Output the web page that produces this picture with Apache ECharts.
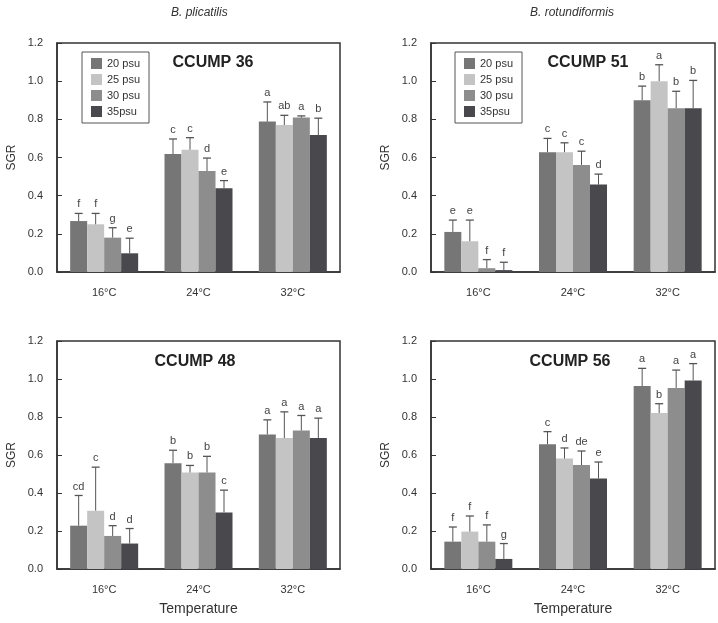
<!DOCTYPE html>
<html>
<head>
<meta charset="utf-8">
<script src="https://cdn.jsdelivr.net/npm/echarts@6/dist/echarts.min.js"></script>
<style>
  html, body { margin: 0; padding: 0; background: #fff; }
  #chart { width: 718px; height: 623px; }
</style>
</head>
<body>
<div id="chart"></div>
<script>
// categories
const temps = ['16°C', '24°C', '32°C'];
const salinities = ['20 psu', '25 psu', '30 psu', '35psu'];
const strains = ['CCUMP 36', 'CCUMP 51', 'CCUMP 48', 'CCUMP 56'];

// mean SGR, one row per salinity, one column per temperature
const c36Mean = [[0.267, 0.618, 0.788], [0.25, 0.641, 0.77], [0.18, 0.529, 0.809], [0.098, 0.439, 0.718]];
const c36Err = [[0.04, 0.079, 0.103], [0.057, 0.063, 0.051], [0.052, 0.068, 0.009], [0.079, 0.04, 0.088]];
const c36Sig = [['f', 'c', 'a'], ['f', 'c', 'ab'], ['g', 'd', 'a'], ['e', 'e', 'b']];

const c51Mean = [[0.21, 0.628, 0.90], [0.161, 0.628, 1.0], [0.02, 0.561, 0.858], [0.01, 0.458, 0.858]];
const c51Err = [[0.062, 0.072, 0.074], [0.111, 0.049, 0.086], [0.045, 0.072, 0.089], [0.041, 0.055, 0.146]];
const c51Sig = [['e', 'c', 'b'], ['e', 'c', 'a'], ['f', 'c', 'b'], ['f', 'd', 'b']];

const c48Mean = [[0.228, 0.557, 0.708], [0.307, 0.508, 0.689], [0.174, 0.508, 0.729], [0.134, 0.298, 0.689]];
const c48Err = [[0.159, 0.068, 0.077], [0.229, 0.037, 0.138], [0.054, 0.085, 0.079], [0.079, 0.117, 0.105]];
const c48Sig = [['cd', 'b', 'a'], ['c', 'b', 'a'], ['d', 'b', 'a'], ['d', 'c', 'a']];

const c56Mean = [[0.144, 0.656, 0.963], [0.197, 0.581, 0.821], [0.144, 0.547, 0.953], [0.053, 0.476, 0.992]];
const c56Err = [[0.077, 0.067, 0.093], [0.082, 0.056, 0.049], [0.088, 0.074, 0.094], [0.081, 0.087, 0.089]];
const c56Sig = [['f', 'c', 'a'], ['f', 'd', 'b'], ['f', 'de', 'a'], ['g', 'e', 'a']];

const panels = [
  { mean: c36Mean, err: c36Err, sig: c36Sig },
  { mean: c51Mean, err: c51Err, sig: c51Sig },
  { mean: c48Mean, err: c48Err, sig: c48Sig },
  { mean: c56Mean, err: c56Err, sig: c56Sig }
];

const colors = ['#767676', '#c4c4c4', '#8d8d8d', '#48484d'];
const FONT = 'Liberation Sans, Arial, sans-serif';
const BAR_W = 17;

const grids = [
  { left: 57, top: 43, width: 283, height: 229 },
  { left: 431, top: 43, width: 284, height: 229 },
  { left: 57, top: 341, width: 283, height: 228 },
  { left: 431, top: 341, width: 284, height: 228 }
];

const chart = echarts.init(document.getElementById('chart'));

const xAxes = grids.map((g, i) => ({
  type: 'category',
  gridIndex: i,
  data: temps,
  name: i >= 2 ? 'Temperature' : '',
  nameLocation: 'middle',
  nameGap: 33,
  nameTextStyle: { fontFamily: FONT, fontSize: 14, color: '#333' },
  axisLine: { lineStyle: { color: '#333', width: 1.5 } },
  axisTick: { inside: true, length: 5, lineStyle: { color: '#333' } },
  axisLabel: { fontFamily: FONT, fontSize: 11, color: '#333', margin: 15 }
}));

const yAxes = grids.map((g, i) => ({
  type: 'value',
  gridIndex: i,
  min: 0,
  max: 1.2,
  interval: 0.2,
  name: 'SGR',
  nameLocation: 'middle',
  nameGap: 39,
  nameTextStyle: { fontFamily: FONT, fontSize: 12, color: '#333' },
  axisLine: { show: true, lineStyle: { color: '#333', width: 1.5 } },
  axisTick: { show: true, inside: true, length: 5, lineStyle: { color: '#333' } },
  splitLine: { show: false },
  axisLabel: { fontFamily: FONT, fontSize: 11, color: '#333', margin: 14,
    formatter: v => v.toFixed(1) }
}));

const series = [];
panels.forEach((p, pi) => {
  salinities.forEach((s, si) => {
    series.push({
      name: s,
      type: 'bar',
      xAxisIndex: pi,
      yAxisIndex: pi,
      barWidth: BAR_W,
      barGap: '0%',
      itemStyle: { color: colors[si] },
      data: p.mean[si]
    });
  });
  const errData = [];
  const letters = [];
  salinities.forEach((s, si) => {
    temps.forEach((t, ti) => {
      errData.push([ti, p.mean[si][ti], p.err[si][ti], si]);
      letters.push(p.sig[si][ti]);
    });
  });
  series.push({
    type: 'custom',
    xAxisIndex: pi,
    yAxisIndex: pi,
    z: 5,
    silent: true,
    data: errData,
    renderItem: function (params, api) {
      const cat = api.value(0), m = api.value(1), e = api.value(2), si = api.value(3);
      const base = api.coord([cat, m]);
      const top = api.coord([cat, m + e]);
      const x = base[0] + (si - 1.5) * BAR_W;
      return {
        type: 'group',
        children: [
          { type: 'line', shape: { x1: x, y1: base[1], x2: x, y2: top[1] },
            style: { stroke: '#555', lineWidth: 1 } },
          { type: 'line', shape: { x1: x - 4, y1: top[1], x2: x + 4, y2: top[1] },
            style: { stroke: '#555', lineWidth: 1.3 } },
          { type: 'text', x: x, y: top[1] - 9,
            style: { text: letters[params.dataIndex], fill: '#444', fontSize: 11,
              fontFamily: FONT, align: 'center', verticalAlign: 'middle' } }
        ]
      };
    }
  });
});

const titlePos = [[213, 55], [588, 55], [195, 354], [570, 354]];

const option = {
  animation: false,
  grid: grids.map(g => Object.assign({ show: true, borderColor: '#333', borderWidth: 1.5,
    backgroundColor: '#fff' }, g)),
  xAxis: xAxes,
  yAxis: yAxes,
  title: strains.map((s, i) => ({
    text: s,
    left: titlePos[i][0],
    top: titlePos[i][1],
    textAlign: 'center',
    padding: 0,
    textStyle: { fontFamily: FONT, fontSize: 16, fontWeight: 'bold', color: '#222' }
  })),
  legend: [
    { left: 82, top: 52 },
    { left: 455, top: 52 }
  ].map(l => Object.assign({
    data: salinities,
    orient: 'vertical',
    icon: 'rect',
    itemWidth: 11,
    itemHeight: 11,
    itemGap: 5,
    padding: [6, 9, 6, 9],
    borderColor: '#555',
    borderWidth: 1,
    backgroundColor: '#fff',
    selectedMode: false,
    textStyle: { fontFamily: FONT, fontSize: 11, color: '#333', padding: [0, 0, 0, 0] }
  }, l)),
  graphic: [
    { type: 'text', left: 171, top: 7,
      style: { text: 'B. plicatilis', fontFamily: FONT, fontSize: 12, fontStyle: 'italic', fill: '#333' } },
    { type: 'text', left: 530, top: 7,
      style: { text: 'B. rotundiformis', fontFamily: FONT, fontSize: 12, fontStyle: 'italic', fill: '#333' } }
  ],
  series: series
};

chart.setOption(option);
</script>
</body>
</html>
